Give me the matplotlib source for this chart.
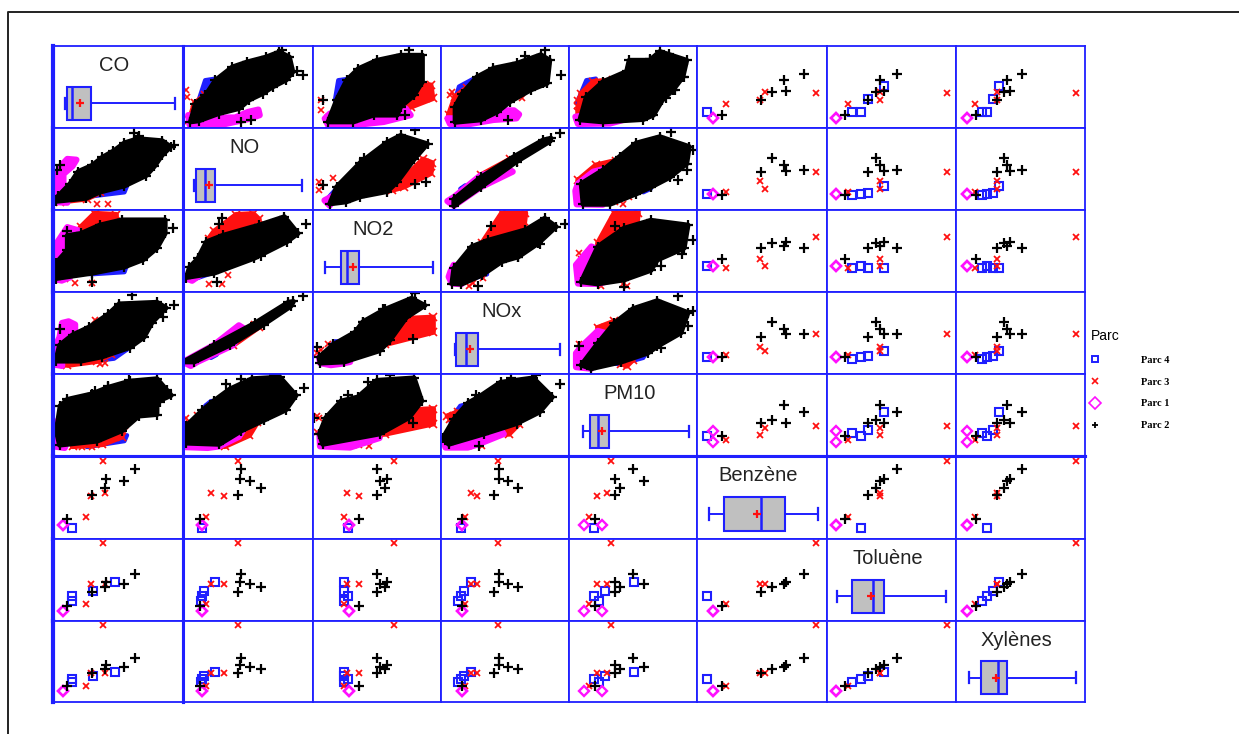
import matplotlib
matplotlib.use("Agg")
import matplotlib.pyplot as plt
from matplotlib.lines import Line2D

plt.rcParams['font.family'] = ['Liberation Sans', 'DejaVu Sans']
BLUE = '#1f1fff'

variables = ['CO', 'NO', 'NO2', 'NOx', 'PM10', 'Benzène', 'Toluène', 'Xylènes']
parcs = ['Parc 4', 'Parc 3', 'Parc 1', 'Parc 2']

# Sparse observations; each row: CO, NO, NO2, NOx, PM10, Benzène, Toluène, Xylènes
nan = float('nan')
parc4_obs = [[.146, .136, .245, .135, .238, nan, .196, .20],
             [.146, .145, .27, .156, .197, .08, .26, .24],
             [.31, .162, .245, .177, .28, nan, .32, .283],
             [.475, .25, .245, .233, .506, nan, .443, .332]]
parc3_obs = [[.254, .175, .245, .187, .153, .223, .166, .15],
             [.295, .315, .362, .285, .218, .486, .41, .315],
             [.403, .218, .269, .233, .30, .524, .41, .32],
             [.383, .42, .635, .447, .33, .917, .93, .93]]
parc1_obs = [[.074, .146, .28, .166, .26, .124, .07, .085],
             [.074, .146, .28, .166, .12, .124, .07, .085]]
parc2_obs = [[.63, .445, .50, .455, .50, .82, .54, .512],
             [.55, .513, .527, .52, .585, .672, .41, .398],
             [.41, .441, .58, .455, .362, .688, .44, .417],
             [.40, .60, .56, .60, .395, .578, .38, .37],
             [.30, .42, .498, .413, .362, .492, .315, .32],
             [.11, .132, .362, .166, .204, .196, .14, .158]]

# Dense clouds outlined from the picture, (x variable, y variable); the mirrored panel swaps them
no_co = {
    'Parc 4': [(.11, .25), (.17, .55), (.25, .57), (.225, .44), (.12, .21)],
    'Parc 3': [(.05, .05), (.09, .26), (.17, .36), (.18, .26), (.09, .05)],
    'Parc 1': [(.04, .11), (.05, -.01), (.30, -.01), (.50, .06), (.59, .11), (.58, .18), (.50, .15), (.40, .08), (.15, .08)],
    'Parc 2': [(.057, .025), (.096, .256), (.173, .36), (.25, .55), (.38, .716), (.496, .78), (.638, .84), (.742, .905), (.819, .84), (.845, .653), (.793, .55), (.69, .465), (.612, .38), (.509, .30), (.432, .193), (.276, .13), (.121, .038)],
    'x3': [(.02, .42), (.03, .34)],
    'x2': [(.92, .62), (.76, .93), (.52, .05), (.45, .03), (.88, .66)],
}
no2_co = {
    'Parc 4': [(.171, .30), (.197, .55), (.29, .57), (.263, .465), (.224, .30), (.184, .21)],
    'Parc 3': [(.71, .465), (.92, .486), (.934, .32), (.763, .214), (.67, .17), (.70, .30)],
    'Parc 1': [(.092, .067), (.118, -.016), (.316, -.016), (.553, .025), (.763, .11), (.724, .193), (.605, .15), (.474, .088), (.263, .067), (.132, .13)],
    'Parc 2': [(.118, .025), (.184, .30), (.263, .55), (.355, .695), (.5, .80), (.684, .863), (.855, .863), (.855, .53), (.79, .36), (.684, .214), (.658, .11), (.474, .11), (.316, .025)],
    'x3': [(.066, .30), (.066, .17), (.118, .09)],
    'x2': [(.08, .30), (.75, .925), (.82, .60), (.72, .11)],
}
nox_co = {
    'Parc 4': [(.10, .26), (.14, .47), (.255, .57), (.24, .51), (.165, .36)],
    'Parc 3': [(.06, .11), (.11, .34), (.2, .45), (.18, .30), (.10, .11)],
    'Parc 1': [(.05, .07), (.07, 0), (.23, 0), (.41, .05), (.59, .07), (.61, .12), (.57, .17), (.46, .17), (.33, .08), (.15, .07)],
    'Parc 2': [(.11, .02), (.11, .215), (.165, .38), (.28, .59), (.41, .70), (.59, .76), (.78, .87), (.85, .80), (.83, .51), (.70, .425), (.54, .28), (.44, .15), (.31, .05)],
    'x3': [(.085, .40), (.63, .32), (.07, .36)],
    'x2': [(.81, .93), (.94, .61), (.52, .05), (.66, .85), (.80, .51)],
}
pm10_co = {
    'Parc 4': [(.06, .26), (.135, .55), (.21, .57), (.16, .43), (.11, .26)],
    'Parc 3': [(.07, .15), (.095, .38), (.19, .53), (.34, .55), (.24, .36), (.19, .17)],
    'Parc 1': [(.05, .09), (.07, 0), (.32, .005), (.47, .07), (.395, .05), (.135, .11)],
    'Parc 2': [(.085, .05), (.135, .34), (.265, .53), (.45, .66), (.47, .80), (.63, .80), (.71, .91), (.92, .80), (.89, .59), (.81, .42), (.73, .30), (.66, .11), (.58, .055), (.265, .025)],
    'x3': [(.06, .30), (.06, .22)],
    'x2': [(.71, .87), (.63, .82), (.90, .585), (.825, .425), (.76, .32), (.85, .76), (.78, .88)],
}
no2_no = {
    'Parc 4': [(.10, .07), (.21, .27), (.24, .27), (.14, .04)],
    'Parc 3': [(.62, .20), (.86, .585), (.93, .54), (.92, .41), (.71, .24)],
    'Parc 1': [(.09, .07), (.13, .005), (.185, .11), (.16, .13)],
    'Parc 2': [(.13, .025), (.185, .24), (.37, .545), (.58, .80), (.684, .885), (.895, .78), (.79, .585), (.66, .305), (.58, .18), (.37, .115), (.26, .05)],
    'x3': [(.16, .35), (.05, .20), (.05, .30)],
    'x2': [(.08, .26), (.80, .28), (.395, .60), (.80, .95), (.88, .30)],
}
nox_no = {
    'Parc 4': [(.15, .215), (.19, .26), (.2, .21)],
    'Parc 3': [(.31, .385), (.54, .585), (.57, .555), (.33, .33)],
    'Parc 1': [(.05, .06), (.10, 0), (.31, .235), (.56, .43), (.52, .47), (.31, .385), (.10, .11)],
    'Parc 2': [(.10, 0), (.31, .235), (.59, .555), (.85, .81), (.86, .85), (.80, .83), (.57, .62), (.31, .36), (.10, .086)],
    'x3': [],
    'x2': [(.93, .92)],
}
pm10_no = {
    'Parc 4': [(.60, .24), (.64, .30), (.64, .215), (.58, .17)],
    'Parc 3': [(.07, .32), (.21, .51), (.37, .57), (.32, .47), (.16, .36)],
    'Parc 1': [(.05, .19), (.06, .02), (.265, .015), (.21, .235), (.29, .47), (.19, .43), (.07, .28)],
    'Parc 2': [(.11, .02), (.095, .28), (.265, .45), (.395, .62), (.525, .79), (.71, .87), (.94, .745), (.92, .53), (.79, .36), (.64, .235), (.525, .15), (.32, .02)],
    'x3': [(.27, .07), (.47, .11), (.42, .02), (.36, .05)],
    'x2': [(.80, .93), (.97, .70), (.92, .45), (.85, .33)],
}
nox_no2 = {
    'Parc 4': [(.19, .12), (.36, .20), (.36, .17), (.20, .09)],
    'Parc 3': [(.32, .56), (.475, .938), (.66, .938), (.645, .75), (.55, .685), (.345, .54)],
    'Parc 1': [(.06, .14), (.085, .055), (.16, .047), (.14, .20), (.10, .29), (.075, .21)],
    'Parc 2': [(.085, .055), (.10, .245), (.24, .52), (.37, .60), (.66, .73), (.81, .875), (.90, .77), (.76, .56), (.605, .39), (.475, .33), (.32, .16), (.16, .047)],
    'x3': [(.215, .03), (.25, .06), (.33, .12)],
    'x2': [(.29, .03), (.605, .39), (.39, .78), (.97, .80), (.77, .55)],
}
pm10_no2 = {
    'Parc 4': [(.07, .055), (.225, .10), (.64, .22), (.64, .27), (.54, .245), (.225, .14)],
    'Parc 3': [(.225, .56), (.355, .94), (.54, .94), (.525, .75), (.355, .56)],
    'Parc 1': [(.055, .29), (.07, .055), (.225, .05), (.41, .13), (.225, .12), (.15, .29), (.225, .48), (.175, .52)],
    'Parc 2': [(.095, .076), (.225, .52), (.43, .75), (.64, .85), (.93, .79), (.90, .50), (.69, .35), (.64, .22), (.43, .10), (.225, .05)],
    'x3': [(.25, .03), (.45, .03), (.38, .12), (.08, .44), (.09, .36), (.42, .05)],
    'x2': [(.43, .01), (.36, .78), (.97, .60), (.88, .43), (.72, .27)],
}
pm10_nox = {
    'Parc 4': [(.35, .08), (.60, .20), (.58, .15), (.40, .07)],
    'Parc 3': [(.225, .53), (.355, .61), (.38, .57), (.265, .45), (.41, .07), (.50, .13), (.45, .05)],
    'Parc 1': [(.055, .21), (.055, .035), (.175, .015), (.12, .12), (.28, .465), (.225, .49), (.095, .29)],
    'Parc 2': [(.095, .06), (.225, .335), (.355, .59), (.50, .77), (.69, .87), (.93, .72), (.875, .465), (.69, .295), (.615, .21), (.41, .10), (.175, .015)],
    'x3': [(.08, .32), (.08, .22)],
    'x2': [(.85, .93), (.97, .74), (.93, .55), (.72, .27), (.08, .30)],
}
clouds = {(1, 0): no_co, (2, 0): no2_co, (3, 0): nox_co, (4, 0): pm10_co,
          (2, 1): no2_no, (3, 1): nox_no, (4, 1): pm10_no,
          (3, 2): nox_no2, (4, 2): pm10_no2, (4, 3): pm10_nox}

# Box summaries per variable: low whisker, Q1, median, Q3, high whisker, mean
box_lo = [.096, .088, .092, .11, .11, .094, .08, .098]
box_q1 = [.109, .10, .221, .12, .164, .206, .19, .194]
box_med = [.143, .168, .263, .195, .227, .489, .356, .329]
box_q3 = [.291, .25, .363, .286, .313, .677, .439, .399]
box_hi = [.935, .917, .934, .93, .938, .934, .919, .927]
box_mean = [.208, .198, .316, .229, .258, .46, .34, .308]

col_edges = [53, 183, 313, 441, 569, 697, 827, 956, 1085]
row_edges = [46, 128, 210, 292, 374, 456, 539, 621, 702]
W, H = 1239, 734
RED, MAGENTA = '#ff1010', '#ff10ff'

styles = {
    'Parc 4': dict(marker='s', color=BLUE, mfc='none', ms=5.5, mew=1.5),
    'Parc 3': dict(marker='x', color=RED, ms=5, mew=1.3),
    'Parc 1': dict(marker='D', color=MAGENTA, mfc='none', ms=5.5, mew=1.7),
}
plus = dict(marker='+', color='black', ms=6.5, mew=1.6)
obs_by_parc = {'Parc 4': parc4_obs, 'Parc 3': parc3_obs, 'Parc 1': parc1_obs, 'Parc 2': parc2_obs}
cloud_colors = {'Parc 4': BLUE, 'Parc 3': RED, 'Parc 1': MAGENTA, 'Parc 2': 'black'}
cloud_edge = {'Parc 4': 3, 'Parc 3': 4, 'Parc 1': 4.5, 'Parc 2': 3.5}

fig = plt.figure(figsize=(W / 100, H / 100), dpi=100, facecolor='white')
fig.add_artist(Line2D([8 / W, 8 / W, 1], [0, 1 - 12 / H, 1 - 12 / H], color='#222222', lw=1.4))


def pts(series, swap):
    xs = [p[0] for p in series]
    ys = [p[1] for p in series]
    return (ys, xs) if swap else (xs, ys)


n = len(variables)
for r in range(n):
    for c in range(n):
        left, right = col_edges[c], col_edges[c + 1]
        top, bottom = row_edges[r], row_edges[r + 1]
        ax = fig.add_axes([left / W, 1 - bottom / H, (right - left) / W, (bottom - top) / H])
        ax.set_xlim(0, 1)
        ax.set_ylim(-.0515, .979)
        ax.set_xticks([])
        ax.set_yticks([])
        for name, sp in ax.spines.items():
            sp.set_color(BLUE)
            sp.set_linewidth(1.3)
            sp.set_zorder(10)
        if c == 0:
            ax.spines['left'].set_linewidth(3)
            ax.spines['right'].set_linewidth(2.2)
        if c == 1:
            ax.spines['left'].set_linewidth(2.2)
        if r == 4:
            ax.spines['bottom'].set_linewidth(2.2)
        if r == 5:
            ax.spines['top'].set_linewidth(2.2)

        if r == c:
            stats = [dict(whislo=box_lo[r], q1=box_q1[r], med=box_med[r], q3=box_q3[r],
                          whishi=box_hi[r], mean=box_mean[r], fliers=[])]
            ax.bxp(stats, positions=[.258], widths=[.42], capwidths=[.14], orientation='horizontal',
                   showmeans=True, patch_artist=True, manage_ticks=False,
                   boxprops=dict(facecolor='#c0c0c0', edgecolor=BLUE, lw=1.5),
                   medianprops=dict(color=BLUE, lw=1.8),
                   whiskerprops=dict(color=BLUE, lw=1.4), capprops=dict(color=BLUE, lw=1.6),
                   meanprops=dict(marker='+', markeredgecolor=RED, markersize=6, markeredgewidth=1.6))
            ax.set_xlim(0, 1)
            ax.set_ylim(-.0515, .979)
            ax.text(.47, .76, variables[r], transform=ax.transAxes, ha='center', va='center',
                    fontsize=14.5, color='#222222')
            continue

        if max(r, c) <= 4:
            pair = clouds[(max(r, c), min(r, c))]
            swap = c < r
            for i, parc in enumerate(parcs):
                xs, ys = pts(pair[parc], swap)
                ax.fill(xs, ys, facecolor=cloud_colors[parc], edgecolor=cloud_colors[parc],
                        lw=cloud_edge[parc], joinstyle='round', zorder=1 + i)
                if parc == 'Parc 2':
                    ax.plot(xs, ys, ls='none', zorder=1 + i, **plus)
                elif parc == 'Parc 3':
                    ax.plot(xs, ys, ls='none', marker='x', color=RED, ms=6, mew=1.2, zorder=1 + i)
            if pair['x3']:
                xs, ys = pts(pair['x3'], swap)
                ax.plot(xs, ys, ls='none', marker='x', color=RED, ms=5, mew=1.2, zorder=2)
            xs, ys = pts(pair['x2'], swap)
            ax.plot(xs, ys, ls='none', zorder=4, **plus)
        else:
            for parc in parcs:
                rows = obs_by_parc[parc]
                xs = [o[c] for o in rows]
                ys = [o[r] for o in rows]
                if parc == 'Parc 2':
                    ax.plot(xs, ys, ls='none', **plus)
                else:
                    ax.plot(xs, ys, ls='none', **styles[parc])

handles = [Line2D([], [], ls='none', marker='s', color=BLUE, mfc='none', ms=5, mew=1.4),
           Line2D([], [], ls='none', marker='x', color=RED, ms=5, mew=1.2),
           Line2D([], [], ls='none', marker='D', color=MAGENTA, mfc='none', ms=6.5, mew=1.2),
           Line2D([], [], ls='none', marker='+', color='black', ms=5, mew=1.3)]
leg = fig.legend(handles, parcs, title='Parc', loc='upper left',
                 bbox_to_anchor=(1085 / W, 1 - 329 / H), frameon=False, borderpad=0, borderaxespad=0,
                 handlelength=2, handletextpad=3.4, labelspacing=1.2,
                 alignment='left', prop=dict(family='Liberation Serif', weight='bold', size=7.5),
                 title_fontproperties=dict(family='Liberation Sans', size=10))
leg.get_title().set_position((6, 0))
fig.savefig('out.png', dpi=100, facecolor='white')
